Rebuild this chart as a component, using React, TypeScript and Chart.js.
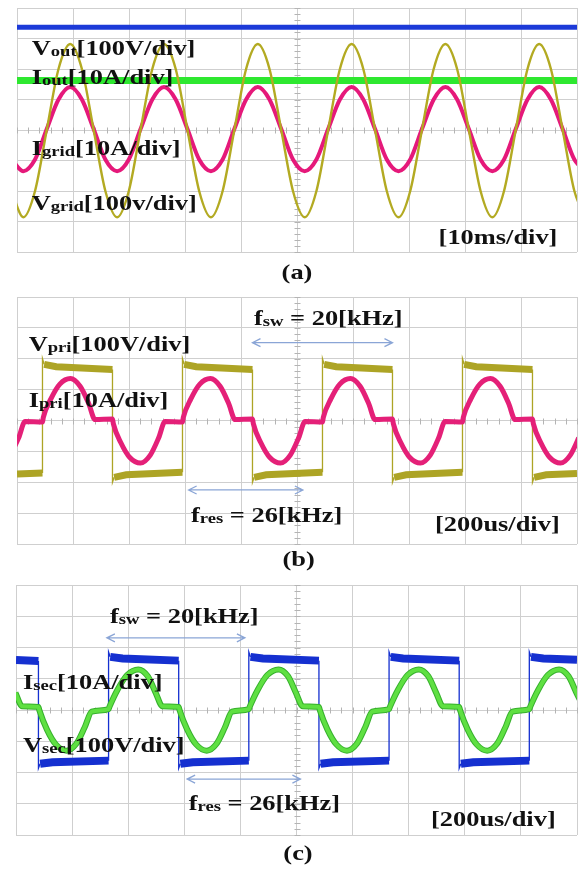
import React, { useEffect, useRef } from 'react';
import { Chart, registerables } from 'chart.js';
Chart.register(...registerables);

// ---------- Panel (a): time in ms, values in divisions ----------
const gridT = [-0.97, 1.13, 3.22, 5.31, 7.41, 9.5, 11.59, 13.69, 15.78, 17.88, 19.97, 22.06, 24.16, 26.25, 28.34, 30.44, 32.53, 34.63, 36.72, 38.81, 40.91, 43.0, 45.09, 47.19, 49.28, 51.38, 53.47, 55.56, 57.66, 59.75, 61.84, 63.94, 66.03, 68.13, 70.22, 72.31, 74.41, 76.5, 78.59, 80.69, 82.78, 84.88, 86.97, 89.06, 91.16, 93.25, 95.34, 97.44, 99.53, 101.63];
const vgridV = [-2.0,
  -2.86, -2.0, 0, 2.0, 2.82, 2.0, 0, -2.0,
  -2.86, -2.0, 0, 2.0, 2.82, 2.0, 0, -2.0,
  -2.86, -2.0, 0, 2.0, 2.82, 2.0, 0, -2.0,
  -2.86, -2.0, 0, 2.0, 2.82, 2.0, 0, -2.0,
  -2.86, -2.0, 0, 2.0, 2.82, 2.0, 0, -2.0,
  -2.86, -2.0, 0, 2.0, 2.82, 2.0, 0, -2.0,
  -2.86];
const igridV = [-0.97,
  -1.35, -0.97, 0.03, 1.0, 1.41, 1.0, 0.03, -0.97,
  -1.35, -0.97, 0.03, 1.0, 1.41, 1.0, 0.03, -0.97,
  -1.35, -0.97, 0.03, 1.0, 1.41, 1.0, 0.03, -0.97,
  -1.35, -0.97, 0.03, 1.0, 1.41, 1.0, 0.03, -0.97,
  -1.35, -0.97, 0.03, 1.0, 1.41, 1.0, 0.03, -0.97,
  -1.35, -0.97, 0.03, 1.0, 1.41, 1.0, 0.03, -0.97,
  -1.35];
const voutT = [0, 100];
const voutV = [3.37, 3.37];
const ioutT = [0, 100];
const ioutV = [1.62, 1.62];

// ---------- Panel (b): time in us, values in divisions ----------
const vpriT = [0, 91, 91, 97, 140, 341, 341, 347, 390, 591, 591, 597, 640, 841, 841, 847, 890, 1091, 1091, 1097, 1140, 1341, 1341, 1347, 1390, 1591, 1591, 1597, 1640, 1841, 1841, 1847, 1890, 2000];
const vpriV = [-1.73, -1.7, 2.0, 1.82, 1.74, 1.65, -2.0, -1.84, -1.76, -1.68, 2.0, 1.82, 1.74, 1.65, -2.0, -1.84, -1.76, -1.68, 2.0, 1.82, 1.74, 1.65, -2.0, -1.84, -1.76, -1.68, 2.0, 1.82, 1.74, 1.65, -2.0, -1.84, -1.76, -1.72];
const ipriT = [-24, 6, 29,
  91, 94, 121, 153, 191, 226, 256, 279, 341, 344, 371, 403, 441, 476, 506, 529,
  591, 594, 621, 653, 691, 726, 756, 779, 841, 844, 871, 903, 941, 976, 1006, 1029,
  1091, 1094, 1121, 1153, 1191, 1226, 1256, 1279, 1341, 1344, 1371, 1403, 1441, 1476, 1506, 1529,
  1591, 1594, 1621, 1653, 1691, 1726, 1756, 1779, 1841, 1844, 1871, 1903, 1941, 1976, 2006, 2029];
const ipriV = [-1.12, -0.56, -0.03,
  -0.05, 0.1, 0.7, 1.18, 1.36, 1.1, 0.55, 0.03, 0.05, -0.1, -0.72, -1.2, -1.38, -1.12, -0.56, -0.03,
  -0.05, 0.1, 0.7, 1.18, 1.36, 1.1, 0.55, 0.03, 0.05, -0.1, -0.72, -1.2, -1.38, -1.12, -0.56, -0.03,
  -0.05, 0.1, 0.7, 1.18, 1.36, 1.1, 0.55, 0.03, 0.05, -0.1, -0.72, -1.2, -1.38, -1.12, -0.56, -0.03,
  -0.05, 0.1, 0.7, 1.18, 1.36, 1.1, 0.55, 0.03, 0.05, -0.1, -0.72, -1.2, -1.38, -1.12, -0.56, -0.03];

// ---------- Panel (c): time in us, values in divisions ----------
const vsecT = [0, 80, 80, 86, 130, 330, 330, 336, 380, 580, 580, 586, 630, 830, 830, 836, 880, 1080, 1080, 1086, 1130, 1330, 1330, 1336, 1380, 1580, 1580, 1586, 1630, 1830, 1830, 1836, 1880, 2000];
const vsecV = [1.6, 1.57, -1.86, -1.72, -1.67, -1.62, 1.86, 1.7, 1.65, 1.58, -1.86, -1.72, -1.67, -1.62, 1.86, 1.7, 1.65, 1.58, -1.86, -1.72, -1.67, -1.62, 1.86, 1.7, 1.65, 1.58, -1.86, -1.72, -1.67, -1.62, 1.86, 1.7, 1.65, 1.61];
const isecT = [-30, -2, 22,
  80, 83, 110, 142, 180, 215, 245, 270, 330, 333, 362, 396, 436, 470, 498, 522,
  580, 583, 610, 642, 680, 715, 745, 770, 830, 833, 862, 896, 936, 970, 998, 1022,
  1080, 1083, 1110, 1142, 1180, 1215, 1245, 1270, 1330, 1333, 1362, 1396, 1436, 1470, 1498, 1522,
  1580, 1583, 1610, 1642, 1680, 1715, 1745, 1770, 1830, 1833, 1862, 1896, 1936, 1970, 1998, 2022];
const isecV = [1.08, 0.55, 0.12,
  0.1, 0.0, -0.62, -1.1, -1.3, -1.08, -0.55, -0.05, 0.03, 0.1, 0.65, 1.12, 1.3, 1.08, 0.55, 0.12,
  0.1, 0.0, -0.62, -1.1, -1.3, -1.08, -0.55, -0.05, 0.03, 0.1, 0.65, 1.12, 1.3, 1.08, 0.55, 0.12,
  0.1, 0.0, -0.62, -1.1, -1.3, -1.08, -0.55, -0.05, 0.03, 0.1, 0.65, 1.12, 1.3, 1.08, 0.55, 0.12,
  0.1, 0.0, -0.62, -1.1, -1.3, -1.08, -0.55, -0.05, 0.03, 0.1, 0.65, 1.12, 1.3, 1.08, 0.55, 0.12];

// ---------- annotation arrows (data units) ----------
const arrowsB = [{ x1: 841, x2: 1341, y: 2.52 }, { x1: 613, x2: 1021, y: -2.25 }];
const arrowsC = [{ x1: 324, x2: 816, y: 2.31 }, { x1: 610, x2: 1014, y: -2.21 }];

type Part = [string, boolean];
type Label = { x: number; y: number; parts: Part[]; center?: boolean };

const labelsA: Label[] = [
  { x: 31.7, y: 55, parts: [['V', false], ['out', true], ['[100V/div]', false]] },
  { x: 31.7, y: 83.5, parts: [['I', false], ['out', true], ['[10A/div]', false]] },
  { x: 31.7, y: 155, parts: [['I', false], ['grid', true], ['[10A/div]', false]] },
  { x: 31.7, y: 209.5, parts: [['V', false], ['grid', true], ['[100v/div]', false]] },
  { x: 438.6, y: 244, parts: [['[10ms/div]', false]] },
  { x: 297, y: 279, parts: [['(a)', false]], center: true },
];
const labelsB: Label[] = [
  { x: 254, y: 35, parts: [['f', false], ['sw', true], [' = 20[kHz]', false]] },
  { x: 28.7, y: 60.5, parts: [['V', false], ['pri', true], ['[100V/div]', false]] },
  { x: 28.7, y: 116.5, parts: [['I', false], ['pri', true], ['[10A/div]', false]] },
  { x: 191, y: 231.5, parts: [['f', false], ['res', true], [' = 26[kHz]', false]] },
  { x: 435, y: 240.5, parts: [['[200us/div]', false]] },
  { x: 298.6, y: 276, parts: [['(b)', false]], center: true },
];
const labelsC: Label[] = [
  { x: 110, y: 45.3, parts: [['f', false], ['sw', true], [' = 20[kHz]', false]] },
  { x: 23, y: 111, parts: [['I', false], ['sec', true], ['[10A/div]', false]] },
  { x: 23, y: 173.5, parts: [['V', false], ['sec', true], ['[100V/div]', false]] },
  { x: 188.7, y: 232, parts: [['f', false], ['res', true], [' = 26[kHz]', false]] },
  { x: 431, y: 248, parts: [['[200us/div]', false]] },
  { x: 298, y: 281.5, parts: [['(c)', false]], center: true },
];

const MAIN = 'bold 22px "Liberation Serif"';
const SUB = 'bold 15.5px "Liberation Serif"';
const SX = 1.2;

function pts(t: number[], v: number[]) {
  return t.map((x, i) => ({ x, y: v[i] }));
}

const smooth = (t: number[], v: number[], color: string, width: number) => ({
  data: pts(t, v),
  borderColor: color,
  borderWidth: width,
  pointRadius: 0,
  fill: false,
  cubicInterpolationMode: 'monotone',
  clip: 0,
});
const square = (t: number[], v: number[], color: string, width: number) => ({
  data: pts(t, v),
  borderColor: color,
  borderWidth: width,
  pointRadius: 0,
  fill: false,
  tension: 0,
  clip: 0,
  segment: {
    borderWidth: (c: any) => (Math.abs(c.p0.x - c.p1.x) < 2.5 ? 1.3 : width),
  },
});

function drawLabel(ctx: CanvasRenderingContext2D, lab: Label) {
  ctx.save();
  ctx.fillStyle = '#111';
  ctx.textBaseline = 'alphabetic';
  ctx.textAlign = 'left';
  let w = 0;
  for (const [t, sub] of lab.parts) {
    ctx.font = sub ? SUB : MAIN;
    w += ctx.measureText(t).width;
  }
  const x0 = lab.center ? lab.x - (w * SX) / 2 : lab.x;
  ctx.translate(x0, lab.y);
  ctx.scale(SX, 1);
  let x = 0;
  for (const [t, sub] of lab.parts) {
    ctx.font = sub ? SUB : MAIN;
    ctx.fillText(t, x, sub ? 1 : 0);
    x += ctx.measureText(t).width;
  }
  ctx.restore();
}

type PanelProps = {
  top: number;
  height: number;
  pad: { left: number; right: number; top: number; bottom: number };
  xMax: number;
  datasets: any[];
  labels: Label[];
  arrows: { x1: number; x2: number; y: number }[];
};

function Panel({ top, height, pad, xMax, datasets, labels, arrows }: PanelProps) {
  const ref = useRef<HTMLCanvasElement>(null);
  useEffect(() => {
    const plugin = {
      id: 'scopeDeco',
      beforeDatasetsDraw(chart: any) {
        const ctx = chart.ctx as CanvasRenderingContext2D;
        const xs = chart.scales.x;
        const ys = chart.scales.y;
        const cx = Math.round(xs.getPixelForValue((xs.min + xs.max) / 2)) + 0.5;
        const cy = Math.round(ys.getPixelForValue(0)) + 0.5;
        ctx.save();
        ctx.strokeStyle = '#b4b4b4';
        ctx.lineWidth = 1;
        ctx.beginPath();
        for (let i = 0; i <= 40; i++) {
          const y = Math.round(ys.getPixelForValue(ys.min + (i * (ys.max - ys.min)) / 40)) + 0.5;
          ctx.moveTo(cx - 3, y);
          ctx.lineTo(cx + 3, y);
        }
        for (let i = 0; i <= 50; i++) {
          const x = Math.round(xs.getPixelForValue(xs.min + (i * (xs.max - xs.min)) / 50)) + 0.5;
          ctx.moveTo(x, cy - 3);
          ctx.lineTo(x, cy + 3);
        }
        ctx.stroke();
        ctx.restore();
      },
      afterDraw(chart: any) {
        const ctx = chart.ctx as CanvasRenderingContext2D;
        const xs = chart.scales.x;
        const ys = chart.scales.y;
        ctx.save();
        ctx.strokeStyle = '#8aa5d6';
        ctx.lineWidth = 1.3;
        for (const a of arrows) {
          const x1 = xs.getPixelForValue(a.x1);
          const x2 = xs.getPixelForValue(a.x2);
          const y = ys.getPixelForValue(a.y);
          ctx.beginPath();
          ctx.moveTo(x1, y);
          ctx.lineTo(x2, y);
          ctx.moveTo(x1 + 8, y - 4);
          ctx.lineTo(x1, y);
          ctx.lineTo(x1 + 8, y + 4);
          ctx.moveTo(x2 - 8, y - 4);
          ctx.lineTo(x2, y);
          ctx.lineTo(x2 - 8, y + 4);
          ctx.stroke();
        }
        ctx.restore();
        for (const l of labels) drawLabel(ctx, l);
      },
    };
    const gridOpts = { color: '#cfcfcf', lineWidth: 1, drawTicks: false };
    const chart = new Chart(ref.current as HTMLCanvasElement, {
      type: 'line',
      data: { datasets },
      options: {
        responsive: false,
        maintainAspectRatio: false,
        animation: false,
        devicePixelRatio: 1,
        events: [],
        layout: { padding: pad },
        plugins: { legend: { display: false }, tooltip: { enabled: false } },
        elements: { point: { radius: 0 } },
        scales: {
          x: {
            type: 'linear',
            min: 0,
            max: xMax,
            ticks: { display: false, stepSize: xMax / 10 },
            grid: gridOpts,
            border: { display: false },
          },
          y: {
            type: 'linear',
            min: -4,
            max: 4,
            ticks: { display: false, stepSize: 1 },
            grid: gridOpts,
            border: { display: false },
          },
        },
      } as any,
      plugins: [plugin],
    });
    return () => chart.destroy();
  }, []);
  return (
    <canvas
      ref={ref}
      width={578}
      height={height}
      style={{ position: 'absolute', left: 0, top, width: 578, height }}
    />
  );
}

export default function App() {
  const dsA = [
    smooth(gridT, vgridV, '#b3aa22', 2.4),
    smooth(gridT, igridV, '#e5197a', 4),
    smooth(ioutT, ioutV, '#2ee830', 7),
    smooth(voutT, voutV, '#1c3ad8', 5),
  ];
  const dsB = [
    smooth(ipriT, ipriV, '#e42078', 5),
    square(vpriT, vpriV, '#ada425', 7),
  ];
  const dsC = [
    smooth(isecT, isecV, '#5fe042', 4),
    smooth(isecT, isecV, '#36b02c', 6),
    square(vsecT, vsecV, '#1530d0', 8),
  ];
  return (
    <div style={{ position: 'absolute', left: 0, top: 0, width: 578, height: 869, background: '#fff' }}>
      <Panel top={0} height={290} pad={{ left: 17, right: 1, top: 8, bottom: 38 }} xMax={100} datasets={dsA} labels={labelsA} arrows={[]} />
      <Panel top={290} height={288} pad={{ left: 17, right: 1, top: 7, bottom: 34 }} xMax={2000} datasets={dsB} labels={labelsB} arrows={arrowsB} />
      <Panel top={578} height={291} pad={{ left: 16, right: 1, top: 7, bottom: 34 }} xMax={2000} datasets={dsC} labels={labelsC} arrows={arrowsC} />
    </div>
  );
}
